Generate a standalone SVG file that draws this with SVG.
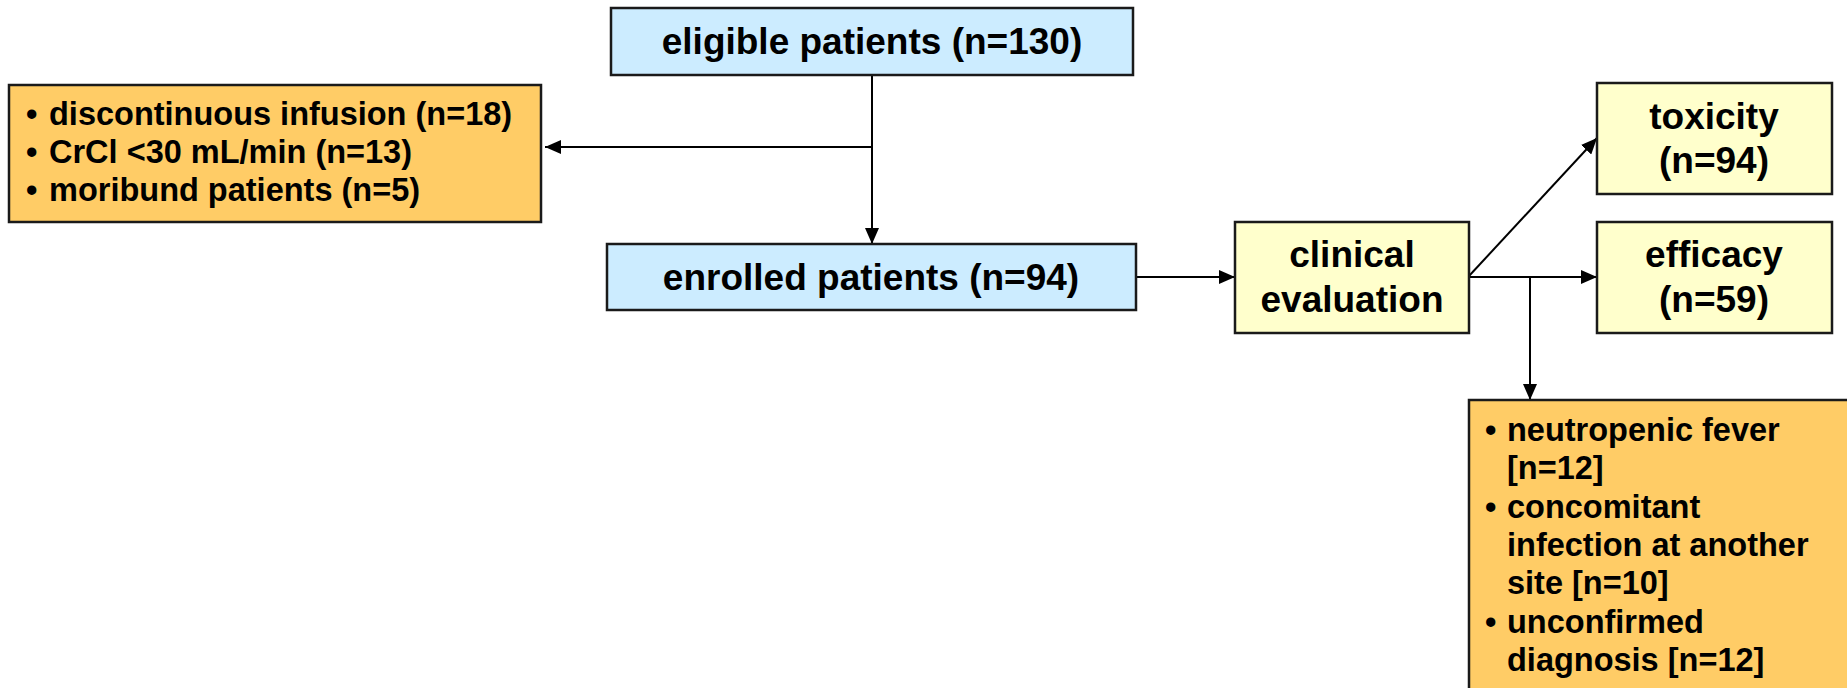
<svg xmlns="http://www.w3.org/2000/svg" width="1847" height="688" viewBox="0 0 1847 688">
<defs>
<style>
.box{stroke:#1a1a1a;stroke-width:2.5}
.blue{fill:#CCECFF}
.yel{fill:#FFFFCC}
.org{fill:#FFCC66}
.t{font-family:"Liberation Sans",Arial,sans-serif;font-weight:bold;fill:#000}
.big{font-size:37px;text-anchor:middle}
.lst{font-size:32.5px}
.conn{stroke:#000;stroke-width:2;fill:none}
</style>
<marker id="a" viewBox="0 0 16 14" refX="16" refY="7" markerWidth="16" markerHeight="14" markerUnits="userSpaceOnUse" orient="auto">
<path d="M0,0 L16,7 L0,14 z" fill="#000"/>
</marker>
</defs>
<rect width="1847" height="688" fill="#fff"/>

<g id="connectors">
<line class="conn" x1="872" y1="75" x2="872" y2="244" marker-end="url(#a)"/>
<line class="conn" x1="872" y1="147" x2="545" y2="147" marker-end="url(#a)"/>
<line class="conn" x1="1136" y1="277" x2="1235" y2="277" marker-end="url(#a)"/>
<line class="conn" x1="1469" y1="276" x2="1597" y2="138" marker-end="url(#a)"/>
<line class="conn" x1="1469" y1="277" x2="1597" y2="277" marker-end="url(#a)"/>
<line class="conn" x1="1530" y1="277" x2="1530" y2="400" marker-end="url(#a)"/>
</g>

<g id="eligible">
<rect class="box blue" x="611" y="8" width="522" height="67"/>
<text class="t big" x="872" y="54">eligible patients (n=130)</text>
</g>

<g id="excluded">
<rect class="box org" x="9" y="85" width="532" height="137"/>
<text class="t lst" x="26" y="125">•</text>
<text class="t lst" x="49" y="125">discontinuous infusion (n=18)</text>
<text class="t lst" x="26" y="163">•</text>
<text class="t lst" x="49" y="163">CrCl &lt;30 mL/min (n=13)</text>
<text class="t lst" x="26" y="201">•</text>
<text class="t lst" x="49" y="201">moribund patients (n=5)</text>
</g>

<g id="enrolled">
<rect class="box blue" x="607" y="244" width="529" height="66"/>
<text class="t big" x="871" y="290">enrolled patients (n=94)</text>
</g>

<g id="clinical">
<rect class="box yel" x="1235" y="222" width="234" height="111"/>
<text class="t big" x="1352" y="267">clinical</text>
<text class="t big" x="1352" y="312">evaluation</text>
</g>

<g id="toxicity">
<rect class="box yel" x="1597" y="83" width="235" height="111"/>
<text class="t big" x="1714" y="129">toxicity</text>
<text class="t big" x="1714" y="173">(n=94)</text>
</g>

<g id="efficacy">
<rect class="box yel" x="1597" y="222" width="235" height="111"/>
<text class="t big" x="1714" y="267">efficacy</text>
<text class="t big" x="1714" y="312">(n=59)</text>
</g>

<g id="excluded-efficacy">
<rect class="box org" x="1469" y="400" width="420" height="320"/>
<text class="t lst" x="1485" y="441">•</text>
<text class="t lst" x="1507" y="441">neutropenic fever</text>
<text class="t lst" x="1507" y="479">[n=12]</text>
<text class="t lst" x="1485" y="518">•</text>
<text class="t lst" x="1507" y="518">concomitant</text>
<text class="t lst" x="1507" y="556">infection at another</text>
<text class="t lst" x="1507" y="594">site [n=10]</text>
<text class="t lst" x="1485" y="633">•</text>
<text class="t lst" x="1507" y="633">unconfirmed</text>
<text class="t lst" x="1507" y="671">diagnosis [n=12]</text>
</g>
</svg>
